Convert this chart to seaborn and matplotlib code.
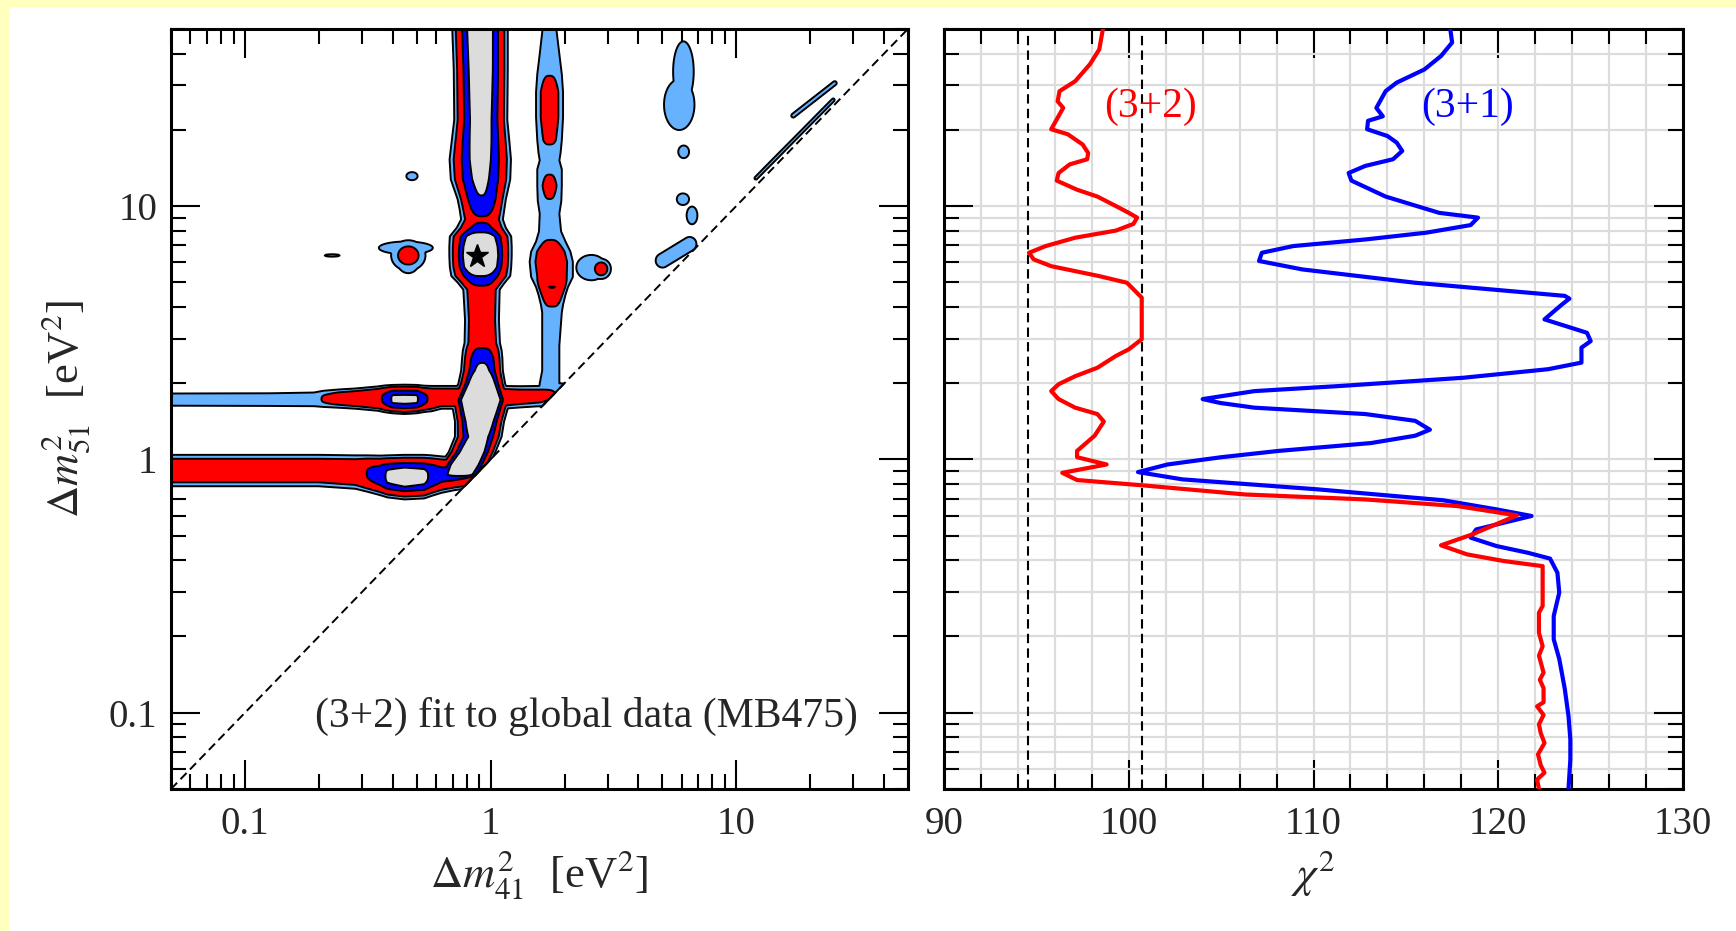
import numpy as np
import pandas as pd
import matplotlib
matplotlib.use("Agg")
import matplotlib.pyplot as plt
import seaborn as sns
from matplotlib.ticker import LogLocator, MultipleLocator, NullFormatter, FuncFormatter
from matplotlib.patches import Rectangle

# ---------------- right panel: chi^2 profiles vs dm^2_51 ----------------
dm2_32 = [50.0, 41.5, 36.3, 31.1, 28.4, 25.9, 24.4, 20.1, 19.2, 17.5, 16.2, 15.3, 14.6,
          13.5, 12.6, 11.6, 10.9, 10.0, 9.4, 9.0, 8.5, 8.0, 7.5, 6.95, 6.54, 6.16, 5.79,
          5.29, 4.98, 4.35, 3.57, 2.98, 2.72, 2.56, 2.30, 2.13, 1.98, 1.86, 1.73, 1.60,
          1.51, 1.41, 1.24, 1.08, 1.02, 0.955, 0.885, 0.829, 0.79, 0.727, 0.695, 0.654,
          0.601, 0.506, 0.458, 0.422, 0.397, 0.379, 0.264, 0.248, 0.207, 0.183, 0.168,
          0.144, 0.135, 0.125, 0.110, 0.106, 0.098, 0.090, 0.083, 0.076, 0.0685, 0.062,
          0.058, 0.0545, 0.050]
chi2_32 = [98.6, 98.4, 97.9, 97.1, 96.25, 96.15, 96.45, 95.8, 96.7, 97.5, 97.8, 97.75, 96.8,
           96.2, 96.1, 97.2, 98.3, 99.3, 100.0, 100.45, 100.25, 99.3, 97.1, 95.5, 94.6, 94.85, 95.8,
           98.4, 99.9, 100.7, 100.7, 100.7, 100.0, 99.3, 98.3, 97.1, 96.2, 95.8, 96.2, 97.1,
           98.3, 98.65, 98.15, 97.2, 97.2, 98.8, 96.4, 97.2, 100.75, 106.3, 112.8, 117.8,
           121.0, 118.6, 116.9, 118.3, 120.3, 122.4, 122.4, 122.2, 122.2, 122.4, 122.2,
           122.45, 122.25, 122.45, 122.45, 122.1, 122.45, 122.2, 122.3, 122.5, 122.15, 122.3,
           122.5, 122.1, 122.2]

dm2_31 = [50.0, 44.2, 39.1, 34.6, 30.7, 28.4, 24.4, 22.6, 21.7, 20.1, 18.9, 17.8, 16.5, 15.3,
          14.4, 13.5, 12.6, 10.9, 9.4, 9.0, 8.41, 7.85, 7.38, 6.95, 6.54, 6.07, 5.62, 4.98,
          4.42, 4.31, 4.09, 3.57, 3.16, 2.93, 2.76, 2.41, 2.27, 2.10, 1.95, 1.86, 1.73, 1.67,
          1.60, 1.51, 1.42, 1.31, 1.24, 1.16, 1.08, 1.02, 0.955, 0.891, 0.834, 0.762, 0.69,
          0.635, 0.598, 0.529, 0.491, 0.455, 0.428, 0.406, 0.357, 0.298, 0.241, 0.195, 0.163,
          0.124, 0.097, 0.0785, 0.0655, 0.050]
chi2_31 = [117.4, 117.5, 116.9, 116.0, 114.5, 113.9, 113.4, 113.75, 112.95, 112.9, 114.0, 114.5,
           114.8, 114.3, 112.8, 111.9, 112.05, 113.9, 116.8, 118.9, 118.5, 116.1, 112.8, 108.9,
           107.2, 107.05, 109.4, 115.5, 123.6, 123.85, 123.45, 122.5, 124.8, 125.0, 124.5, 124.5,
           122.7, 118.1, 111.5, 106.8, 104.0, 104.95, 106.8, 112.8, 115.5, 116.3, 115.5, 113.1,
           108.1, 105.0, 102.1, 100.5, 102.9, 110.2, 117.0, 119.9, 121.8, 118.8, 118.5, 119.9,
           121.6, 122.8, 123.2, 123.3, 123.0, 123.0, 123.3, 123.6, 123.8, 123.9, 123.9, 123.8]

chi2_ref = [94.55, 100.7]          # dashed reference lines

# ---------------- left panel: allowed regions ----------------
best_fit = {"dm41": [0.883], "dm51": [6.36]}
cl_levels = [4.61, 5.99, 9.21, 11.83]
cl_colors = ["#dcdcdc", "#0000ff", "#ff0000", "#66b2ff"]

# main vertical band: log10(dm51), centre log10(dm41), half width (decades), depth
vb1_ly = [1.75, 1.70, 1.54, 1.34, 1.25, 1.184, 1.105, 1.026, 0.987, 0.947, 0.914, 0.88, 0.84,
          0.803, 0.76, 0.724, 0.697, 0.67, 0.55, 0.46, 0.43, 0.40, 0.35, 0.30, 0.235, 0.15,
          0.09, 0.03, -0.02, -0.06, -0.10]
vb1_c = [-0.043, -0.043, -0.040, -0.040, -0.041, -0.042, -0.041, -0.036, -0.035, -0.035, -0.038,
         -0.041, -0.041, -0.041, -0.041, -0.040, -0.038, -0.037, -0.035, -0.034, -0.034, -0.034,
         -0.035, -0.036, -0.040, -0.045, -0.050, -0.075, -0.105, -0.125, -0.14]
vb1_w = [0.113, 0.113, 0.110, 0.108, 0.118, 0.125, 0.121, 0.098, 0.091, 0.085, 0.100, 0.125,
         0.127, 0.127, 0.125, 0.12, 0.095, 0.074, 0.069, 0.072, 0.079, 0.082, 0.085, 0.095,
         0.12, 0.10, 0.095, 0.095, 0.10, 0.10, 0.09]
vb1_d = [3.8, 3.8, 3.9, 4.1, 4.2, 4.3, 4.45, 4.65, 5.3, 6.3, 5.5, 3.8, 3.2, 3.0, 3.3, 4.6, 5.4,
         6.8, 7.0, 6.8, 5.6, 4.8, 4.3, 3.0, 1.5, 3.0, 4.0, 3.4, 3.0, 3.5, 12.0]

# second vertical band
vb2_ly = [1.75, 1.699, 1.60, 1.52, 1.45, 1.35, 1.26, 1.21, 1.18, 1.145, 1.08, 1.02, 0.97, 0.90,
          0.86, 0.82, 0.78, 0.72, 0.68, 0.65, 0.61, 0.58, 0.45, 0.35, 0.30, 0.25, 0.20]
vb2_c = [0.2396, 0.2396, 0.24, 0.24, 0.24, 0.24, 0.24, 0.24, 0.24, 0.24, 0.24, 0.24, 0.24, 0.242,
         0.245, 0.245, 0.247, 0.25, 0.25, 0.25, 0.25, 0.25, 0.245, 0.245, 0.24, 0.24, 0.24]
vb2_w = [0.028, 0.028, 0.04, 0.05, 0.055, 0.055, 0.05, 0.045, 0.04, 0.05, 0.05, 0.048, 0.04,
         0.045, 0.06, 0.08, 0.088, 0.085, 0.065, 0.055, 0.045, 0.04, 0.035, 0.035, 0.04, 0.045,
         0.045]
vb2_d = [10.8, 10.8, 10.3, 9.3, 8.2, 8.2, 8.8, 10.0, 10.8, 9.5, 8.6, 9.3, 10.6, 10.3, 9.0, 7.8,
         7.5, 7.8, 5.9, 7.0, 8.8, 10.6, 11.0, 11.0, 10.5, 10.0, 12.0]

# upper horizontal band: log10(dm41), centre log10(dm51), half width, depth
hb1_lx = [-1.36, -0.9, -0.72, -0.68, -0.62, -0.55, -0.46, -0.43, -0.40, -0.35, -0.30, -0.27,
          -0.24, -0.2, -0.1, 0.0, 0.05, 0.12, 0.2, 0.28, 0.32]
hb1_c = [0.236, 0.236, 0.237, 0.239, 0.240, 0.240, 0.240, 0.239, 0.238, 0.237, 0.238, 0.239,
         0.240, 0.245, 0.245, 0.245, 0.245, 0.247, 0.25, 0.26, 0.26]
hb1_w = [0.024, 0.025, 0.027, 0.032, 0.036, 0.040, 0.048, 0.053, 0.056, 0.058, 0.056, 0.052,
         0.05, 0.045, 0.045, 0.045, 0.045, 0.042, 0.04, 0.04, 0.04]
hb1_d = [10.5, 10.5, 10.0, 9.0, 8.0, 7.4, 6.5, 5.6, 4.45, 4.4, 4.45, 5.6, 6.5, 7.0, 7.0, 7.0,
         7.5, 8.0, 8.3, 9.5, 12.0]

# lower horizontal band
hb2_lx = [-1.36, -0.7, -0.55, -0.50, -0.45, -0.42, -0.35, -0.27, -0.24, -0.2, -0.15, -0.1, -0.05]
hb2_c = [-0.044, -0.044, -0.05, -0.056, -0.063, -0.067, -0.070, -0.068, -0.064, -0.060, -0.057,
         -0.055, -0.05]
hb2_w = [0.062, 0.062, 0.066, 0.072, 0.078, 0.083, 0.088, 0.086, 0.080, 0.072, 0.065, 0.06, 0.06]
hb2_d = [7.3, 7.3, 7.0, 5.9, 5.2, 4.4, 4.0, 4.3, 4.9, 5.6, 5.6, 5.8, 6.0]

# isolated islands: centre log x, centre log y, half widths, depth
isl_cx = [-0.320, -0.645, -0.345, -0.335, -0.335, 0.41, 0.45, 0.768, 0.785, 0.786, 0.783, 0.82]
isl_cy = [1.118, 0.805, 0.835, 0.795, 0.805, 0.757, 0.752, 1.40, 1.53, 1.214, 1.027, 0.963]
isl_sx = [0.023, 0.035, 0.11, 0.05, 0.07, 0.061, 0.04, 0.062, 0.042, 0.022, 0.025, 0.022]
isl_sy = [0.016, 0.006, 0.025, 0.06, 0.06, 0.05, 0.04, 0.10, 0.12, 0.025, 0.023, 0.035]
isl_d = [10.8, 11.5, 11.0, 10.5, 8.5, 10.8, 8.3, 11.0, 11.0, 11.2, 11.2, 11.2]

# thin elongated islands near the diagonal: (x1, y1) -> (x2, y2) in log units
seg_x1 = [0.70, 1.232, 1.08]
seg_y1 = [0.785, 1.357, 1.11]
seg_x2 = [0.81, 1.401, 1.395]
seg_y2 = [0.85, 1.485, 1.419]
seg_w = [0.028, 0.008, 0.006]
seg_d = [11.0, 11.0, 11.2]

# ---------------- build the delta-chi2 map ----------------
lo, hi = np.log10(0.05), np.log10(50)
n = 900
lx = np.linspace(lo, hi, n)
ly = np.linspace(lo, hi, n)
LX, LY = np.meshgrid(lx, ly)
L4 = cl_levels[-1]
BIG = 50.0


def prof(r, d):
    return d + np.maximum(L4 - d, 0.5) * r ** 3


def band(along, across, s, c, w, d):
    s = np.asarray(s, float)
    o = np.argsort(s)
    ci = np.interp(along, s[o], np.asarray(c, float)[o], left=np.nan, right=np.nan)
    wi = np.interp(along, s[o], np.asarray(w, float)[o], left=np.nan, right=np.nan)
    di = np.interp(along, s[o], np.asarray(d, float)[o], left=np.nan, right=np.nan)
    return np.nan_to_num(prof(np.abs(across - ci) / wi, di), nan=BIG)


fields = [band(LY, LX, vb1_ly, vb1_c, vb1_w, vb1_d),
          band(LY, LX, vb2_ly, vb2_c, vb2_w, vb2_d),
          band(LX, LY, hb1_lx, hb1_c, hb1_w, hb1_d),
          band(LX, LY, hb2_lx, hb2_c, hb2_w, hb2_d)]
for cx, cy, sx, sy, d in zip(isl_cx, isl_cy, isl_sx, isl_sy, isl_d):
    fields.append(prof(np.hypot((LX - cx) / sx, (LY - cy) / sy), d))
for x1, y1, x2, y2, w, d in zip(seg_x1, seg_y1, seg_x2, seg_y2, seg_w, seg_d):
    vx, vy = x2 - x1, y2 - y1
    t = np.clip(((LX - x1) * vx + (LY - y1) * vy) / (vx * vx + vy * vy), 0, 1)
    dist = np.hypot(LX - x1 - t * vx, LY - y1 - t * vy)
    fields.append(prof(dist / w, d))
F = np.minimum(np.minimum.reduce(fields), BIG)
F[LY < LX] = BIG

# ---------------- styling ----------------
sns.set_style("white")
plt.rcParams["font.family"] = ["Liberation Serif", "DejaVu Serif"]
plt.rcParams["mathtext.fontset"] = "stix"
plt.rcParams["axes.linewidth"] = 2.2
plt.rcParams["axes.edgecolor"] = "black"

fig = plt.figure(figsize=(17.36, 9.31), dpi=100)
fig.patch.set_facecolor("white")
fig.patches.append(Rectangle((0, 1 - 6 / 931), 1, 6 / 931, transform=fig.transFigure,
                             color="#ffffbe", zorder=-10))
fig.patches.append(Rectangle((0, 0), 8 / 1736, 1, transform=fig.transFigure,
                             color="#ffffbe", zorder=-10))

ax1 = fig.add_axes([0.0985, 0.1525, 0.4245, 0.8164])
ax2 = fig.add_axes([0.5438, 0.1525, 0.4257, 0.8164])

TICK = 28


def style_ticks(ax):
    ax.tick_params(which="both", direction="in", top=True, right=True, bottom=True, left=True,
                   color="black", width=1.5, labelsize=TICK)
    ax.tick_params(which="major", length=21)
    ax.tick_params(which="minor", length=10.5)
    ax.tick_params(axis="x", pad=12)
    ax.tick_params(axis="y", pad=10)
    for s in ax.spines.values():
        s.set_linewidth(2.2)
        s.set_color("black")


# left panel
X, Y = 10 ** lx, 10 ** ly
ax1.set_xscale("log")
ax1.set_yscale("log")
ax1.contourf(X, Y, F, levels=[-100] + cl_levels, colors=cl_colors, zorder=1.6)
ax1.contour(X, Y, F, levels=cl_levels, colors="black", linewidths=1.4, zorder=1.7)
ax1.axline((1, 1), (10, 10), color="black", lw=1.4, ls=(0, (4.5, 2.5)), zorder=3)
ax1.plot(best_fit["dm41"], best_fit["dm51"], marker="*", ms=17, color="black", ls="none",
         zorder=4)
ax1.set_xlim(0.05, 50)
ax1.set_ylim(0.05, 50)
fmt = FuncFormatter(lambda v, p: f"{v:g}")
for axis in (ax1.xaxis, ax1.yaxis):
    axis.set_major_locator(LogLocator(base=10, numticks=10))
    axis.set_minor_locator(LogLocator(base=10, subs=np.arange(2, 10), numticks=20))
    axis.set_major_formatter(fmt)
    axis.set_minor_formatter(NullFormatter())
style_ticks(ax1)
ax1.set_xlabel(r"$\Delta m^2_{41}$  [eV$^2$]", fontsize=32, labelpad=4)
ax1.set_ylabel(r"$\Delta m^2_{51}$  [eV$^2$]", fontsize=32, labelpad=12)
ax1.text(0.932, 0.082, "(3+2) fit to global data (MB475)", transform=ax1.transAxes,
         ha="right", va="baseline", fontsize=30)

# right panel
df32 = pd.DataFrame({"chi2": chi2_32, "dm2": dm2_32})
df31 = pd.DataFrame({"chi2": chi2_31, "dm2": dm2_31})
ax2.set_yscale("log")
ax2.grid(True, which="both", color="#dcdcdc", lw=1.6)
ax2.set_axisbelow(True)
for v in chi2_ref:
    ax2.axvline(v, color="black", lw=1.5, ls=(0, (4.5, 2.5)), zorder=2)
sns.lineplot(data=df31, x="chi2", y="dm2", sort=False, estimator=None, color="#0000ff",
             lw=3, ax=ax2, zorder=3)
sns.lineplot(data=df32, x="chi2", y="dm2", sort=False, estimator=None, color="#ff0000",
             lw=3, ax=ax2, zorder=4)
ax2.set_xlim(90, 130)
ax2.set_ylim(0.05, 50)
ax2.xaxis.set_major_locator(MultipleLocator(10))
ax2.xaxis.set_minor_locator(MultipleLocator(2))
ax2.yaxis.set_major_locator(LogLocator(base=10, numticks=10))
ax2.yaxis.set_minor_locator(LogLocator(base=10, subs=np.arange(2, 10), numticks=20))
ax2.yaxis.set_major_formatter(NullFormatter())
ax2.yaxis.set_minor_formatter(NullFormatter())
style_ticks(ax2)
ax2.set_xlabel(r"$\chi^2$", fontsize=32, labelpad=4)
ax2.set_ylabel("")
ax2.text(0.28, 0.897, "(3+2)", transform=ax2.transAxes, ha="center", va="center",
         color="#ff0000", fontsize=30)
ax2.text(0.708, 0.897, "(3+1)", transform=ax2.transAxes, ha="center", va="center",
         color="#0000ff", fontsize=30)

fig.savefig("out.png", dpi=100)
